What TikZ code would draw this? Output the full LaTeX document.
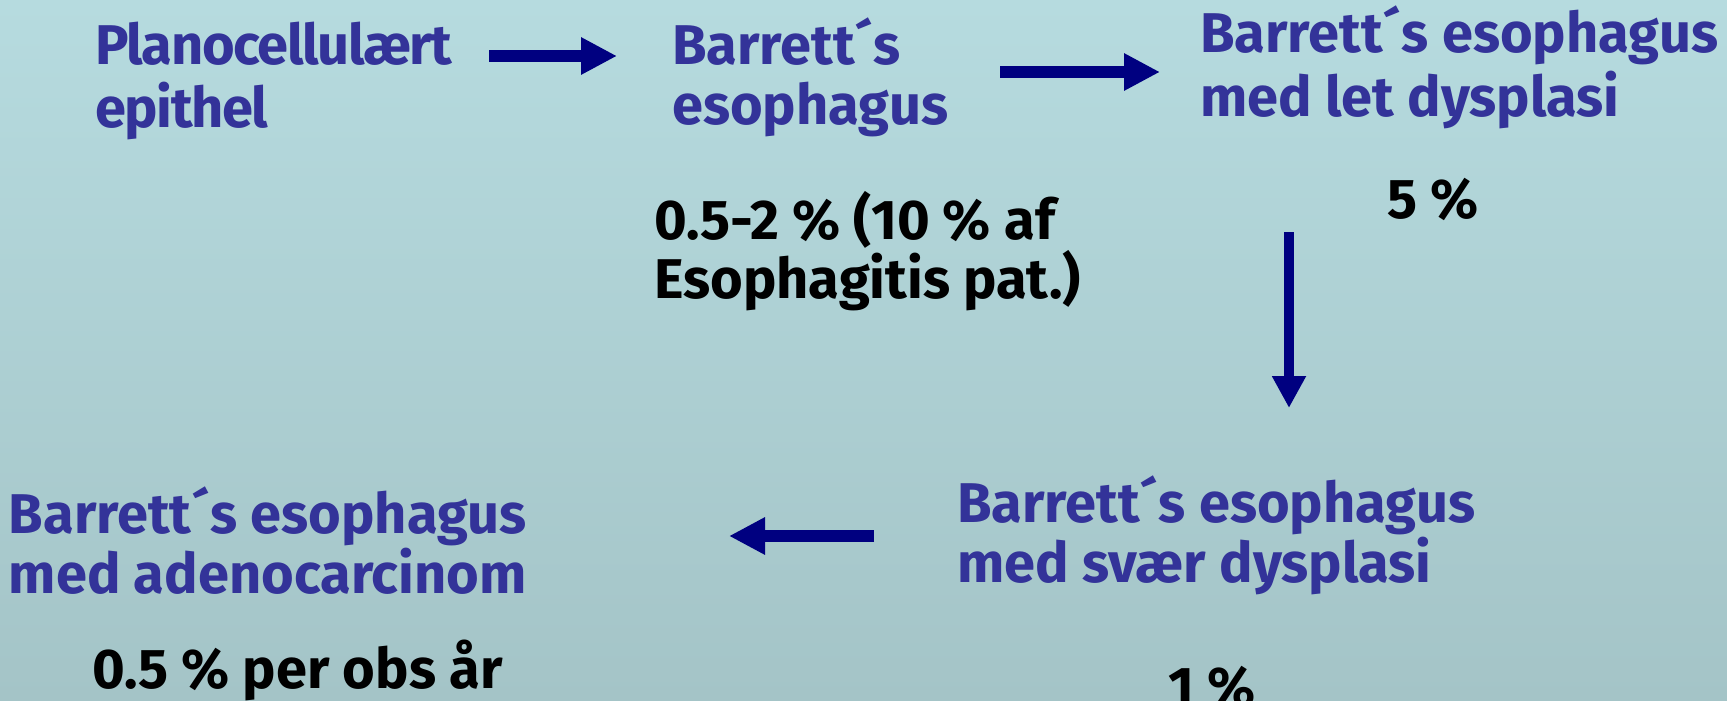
\documentclass[tikz,border=0pt]{standalone}
\usepackage{fontspec}
\setmainfont{Fira Sans}
\usetikzlibrary{arrows.meta}
\definecolor{bgtop}{RGB}{182,219,223}
\definecolor{bgbot}{RGB}{164,196,199}
\definecolor{txtblue}{RGB}{51,51,153}
\definecolor{arrnavy}{RGB}{0,0,128}
\begin{document}
\begin{tikzpicture}[x=1pt,y=-1pt,
  lbl/.style={inner sep=0pt, anchor=base west, align=left},
  bluetxt/.style={text=txtblue},
  blacktxt/.style={text=black},
  fs/.style={font=\fontsize{56}{#1}\selectfont\bfseries},
  arr/.style={draw=arrnavy, line width=12pt, -{Triangle[length=36pt,width=35pt]}},
  varr/.style={draw=arrnavy, line width=10pt, -{Triangle[length=32pt,width=32pt]}}]
\shade[top color=bgtop, bottom color=bgbot] (0,0) rectangle (1727,701);
\useasboundingbox (0,0) rectangle (1727,701);

% multi-line nodes: base anchor = baseline of the last line
\node[lbl,bluetxt,fs=63] (t1) at (95,127) {\addfontfeature{LetterSpace=-2.5}Planocellulært\\\addfontfeature{LetterSpace=-2.5}epithel};
\node[lbl,bluetxt,fs=60] (t2) at (672,124) {Barrett´s\\esophagus};
\node[lbl,bluetxt,fs=64] (t3) at (1200,117) {Barrett´s esophagus\\med let dysplasi};
\node[lbl,blacktxt,fs=56] (p1) at (654,298) {0.5-2 \% (10 \% af\\Esophagitis pat.)};
\node[lbl,blacktxt,fs=60] (p2) at (1387,218) {5 \%};
\node[lbl,bluetxt,fs=60] (t4) at (957,582) {Barrett´s esophagus\\med svær dysplasi};
\node[inner sep=0pt, anchor=base east, align=right, bluetxt, fs=60] (t5) at (527,593) {Barrett´s esophagus\\med adenocarcinom};
\node[lbl,blacktxt,fs=60] (p3) at (92,688) {0.5 \% per obs år};
\node[lbl,blacktxt,fs=60] (p4) at (1168,706) {1 \%};

\coordinate (a1s) at (489,56);
\coordinate (a1e) at (617,56);
\coordinate (a2s) at (1000,72);
\coordinate (a2e) at (1160,72);
\coordinate (a3s) at (1289,232);
\coordinate (a3e) at (1289,408);
\coordinate (a4s) at (874,536);
\coordinate (a4e) at (729,536);

\draw[arr] (a1s) -- (a1e);
\draw[arr] (a2s) -- (a2e);
\draw[varr] (a3s) -- (a3e);
\draw[arr] (a4s) -- (a4e);
\end{tikzpicture}
\end{document}
